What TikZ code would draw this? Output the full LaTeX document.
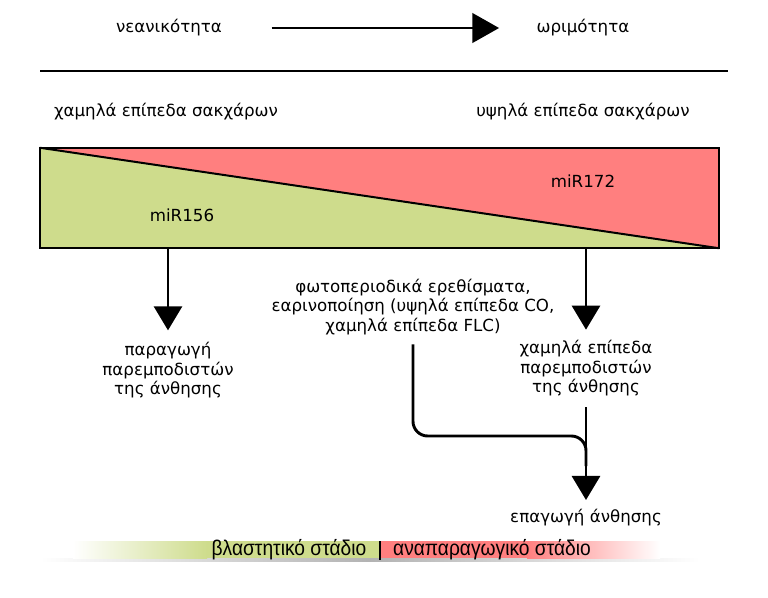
\documentclass[tikz,border=0pt]{standalone}
\usepackage{fontspec}
\setmainfont{DejaVu Sans}
\newfontfamily\narrowfont[FakeStretch=0.9]{Liberation Sans}
\usepackage{tikz}
\usetikzlibrary{arrows.meta}
\usetikzlibrary{positioning}
\definecolor{leafgreen}{HTML}{CEDC8C}
\definecolor{rosered}{HTML}{FF7F7F}

\begin{document}
\begin{tikzpicture}[x=0.75pt,y=-0.75pt,
	txt/.style={font=\fontsize{12.5}{14.5}\selectfont, align=center, inner sep=1pt},
	stage/.style={font=\narrowfont\fontsize{16}{18}\selectfont, inner sep=0pt},
	bigarrow/.style={line width=2.2pt, -{Triangle[width=21pt,length=18pt]}}]

	\useasboundingbox (0,0) rectangle (768,597);

	% time axis
	\node[txt] (young) at (169,28) {νεανικότητα};
	\node[txt] (mature) at (583,28) {ωριμότητα};
	\draw[line width=2.2pt, -{Triangle[width=22pt,length=20pt]}, shorten <=36pt, shorten >=27pt] (young) -- (mature);
	\draw[line width=1.5pt] (40,71) -- (728,71);

	\node[txt] (lowsug) at (166,112) {χαμηλά επίπεδα σακχάρων};
	\node[txt] (highsug) at (583,112) {υψηλά επίπεδα σακχάρων};

	% the two miRNA wedges
	\path node[minimum width=509.25pt, minimum height=75pt, inner sep=0pt] (box) at (379.5,198) {};
	\fill[leafgreen] (box.north west) -- (box.south east) -- (box.south west) -- cycle;
	\fill[rosered] (box.north west) -- (box.north east) -- (box.south east) -- cycle;
	\draw[line width=1.5pt] (box.north west) -- (box.south east);
	\draw[line width=1.2pt] (box.south west) rectangle (box.north east);
	\node[txt] (mir156) at (182,215) {miR156};
	\node[txt] (mir172) at (583,181) {miR172};

	\node[txt, anchor=north] (prod) at (168,341) {παραγωγή\\παρεμποδιστών\\της άνθησης};
	\node[txt, anchor=north] (inhib) at (586,339) {χαμηλά επίπεδα\\παρεμποδιστών\\της άνθησης};
	\node[txt] (sig) at (413,307) {φωτοπεριοδικά ερεθίσματα,\\εαρινοποίηση (υψηλά επίπεδα CO,\\χαμηλά επίπεδα FLC)};
	\node[txt] (induce) at (586,518) {επαγωγή άνθησης};

	\draw[bigarrow, shorten >=8pt] (box.south -| prod.north) -- (prod.north);
	\draw[bigarrow, shorten >=7pt] (box.south -| inhib.north) -- (inhib.north);

	\coordinate (join) at (586,436);
	\draw[line width=2.2pt, rounded corners=11pt, shorten <=6pt] (sig.south) |- (join) -- ++(0,30);
	\draw[bigarrow, shorten <=7pt, shorten >=6pt] (inhib.south) -- (induce.north);

	% developmental stages
	\shade[left color=white, right color=white, middle color=black!30] (40,558) rectangle (700,561);
	\shade[left color=white, right color=leafgreen] (73,541) rectangle (207,558);
	\fill[leafgreen] (207,541) rectangle (380,558);
	\fill[rosered] (380,541) rectangle (527,558);
	\shade[left color=rosered, right color=white] (527,541) rectangle (660,558);
	\draw[line width=1pt] (380,541) -- (380,560);
	\node[stage] (veg) at (289,550) {βλαστητικό στάδιο};
	\node[stage] (rep) at (492,550) {αναπαραγωγικό στάδιο};

\end{tikzpicture}
\end{document}
